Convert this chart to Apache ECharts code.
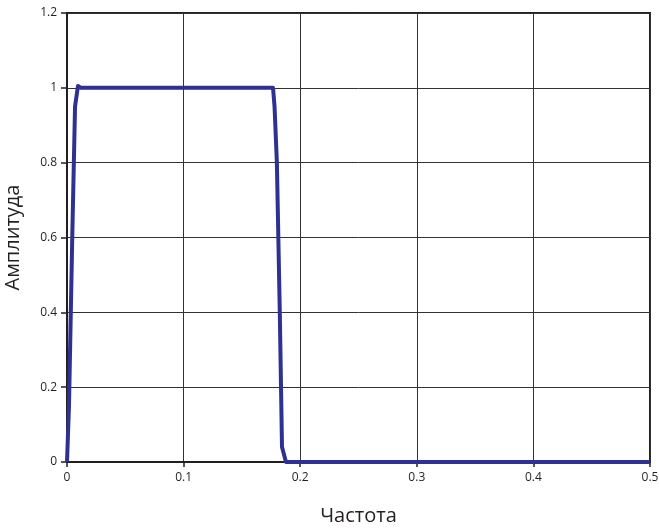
<!DOCTYPE html>
<html><head><meta charset="utf-8">
<script src="https://cdn.jsdelivr.net/npm/echarts@6/dist/echarts.min.js"></script>
<style>html,body{margin:0;padding:0;background:#fff}#c{width:659px;height:529px}</style>
</head><body><div id="c"></div>
<script>
const freq = [0, 0.0017, 0.0045, 0.0069, 0.0094, 0.012, 0.05, 0.1, 0.15, 0.1767, 0.178, 0.18, 0.1825, 0.1844, 0.1878, 0.2, 0.3, 0.4, 0.5];
const amp  = [0, 0.15, 0.6, 0.95, 1.005, 1.0, 1.0, 1.0, 1.0, 1.0, 0.95, 0.8, 0.4, 0.04, 0, 0, 0, 0, 0];
const xTicks = [0, 0.1, 0.2, 0.3, 0.4, 0.5];
const yTicks = [0, 0.2, 0.4, 0.6, 0.8, 1, 1.2];
const xName = 'Частота';
const yName = 'Амплитуда';

const chart = echarts.init(document.getElementById('c'), null, {renderer: 'canvas'});
const font = 'Open Sans';
chart.setOption({
  animation: false,
  grid: {left: 67, right: 9, top: 13, bottom: 67, containLabel: false, outerBoundsMode: 'none',
         show: true, borderColor: '#231f20', borderWidth: 2, backgroundColor: 'transparent'},
  xAxis: {
    type: 'value', min: xTicks[0], max: xTicks[xTicks.length-1], interval: 0.1,
    name: xName, nameLocation: 'middle', nameGap: 44,
    nameTextStyle: {fontFamily: font, fontSize: 20, color: '#231f20'},
    axisLine: {show: true, lineStyle: {color: '#231f20', width: 2}},
    axisTick: {show: true, inside: false, length: 5, lineStyle: {color: '#231f20', width: 1.5}},
    axisLabel: {fontFamily: font, fontSize: 12, color: '#231f20', margin: 10},
    splitLine: {show: true, lineStyle: {color: '#333', width: 1}}
  },
  yAxis: {
    type: 'value', min: yTicks[0], max: yTicks[yTicks.length-1], interval: 0.2,
    name: yName, nameLocation: 'middle', nameGap: 44, nameRotate: 90,
    nameTextStyle: {fontFamily: font, fontSize: 20, color: '#231f20'},
    axisLine: {show: true, lineStyle: {color: '#231f20', width: 2}},
    axisTick: {show: true, inside: false, length: 6, lineStyle: {color: '#231f20', width: 1.5}},
    axisLabel: {fontFamily: font, fontSize: 12, color: '#231f20', margin: 10},
    splitLine: {show: true, lineStyle: {color: '#333', width: 1}}
  },
  series: [{
    type: 'line',
    data: freq.map((f, i) => [f, amp[i]]),
    showSymbol: false,
    lineStyle: {color: '#2e3192', width: 4, join: 'round'},
    clip: false
  }]
});
</script></body></html>
